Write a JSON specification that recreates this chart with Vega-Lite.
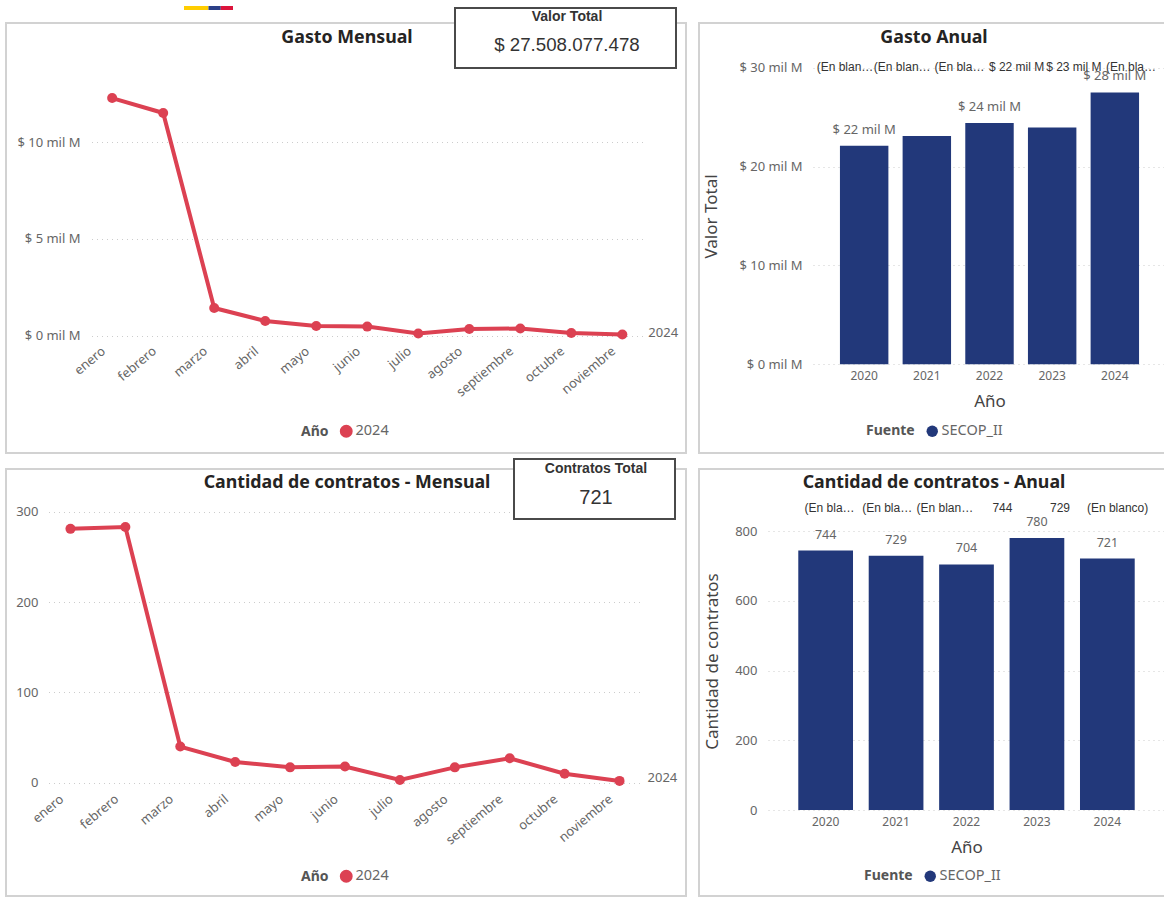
{"$schema":"https://vega.github.io/schema/vega-lite/v6.json","background":"white","padding":{"left":5,"top":5,"right":0,"bottom":0},"columns":2,"spacing":{"row":16,"column":13},"bounds":"flush",
"resolve":{"scale":{"color":"independent"},"legend":{"color":"independent"}},
"config":{"view":{"stroke":"#d2d2d2","strokeWidth":2},"font":"Noto Sans","axis":{"labelFont":"Noto Sans","labelFontSize":12,"labelColor":"#666666","titleFont":"Noto Sans","titleFontWeight":"normal","titleFontSize":17,"titleColor":"#444444","domain":false,"ticks":false,"gridColor":"#cccccc","gridDash":[1,4],"labelOverlap":false,"labelBound":false,"labelFlush":false},"legend":{"orient":"none","direction":"horizontal","titleOrient":"left","symbolType":"circle","symbolSize":130,"titleFont":"Noto Sans","labelFont":"Noto Sans","titleFontSize":14,"titleFontWeight":"bold","titleColor":"#555555","labelFontSize":14.5,"labelColor":"#666666","titlePadding":10,"labelOffset":2,"symbolOpacity":1},"title":{"font":"Noto Sans","fontSize":17.8,"fontWeight":"bold","color":"#252423","anchor":"middle","baseline":"alphabetic"},"text":{"font":"Noto Sans"}},
"datasets":{
"gastoMes":[{"mes":"enero","Año":"2024","valor":12.27},{"mes":"febrero","Año":"2024","valor":11.5},{"mes":"marzo","Año":"2024","valor":1.42},{"mes":"abril","Año":"2024","valor":0.75},{"mes":"mayo","Año":"2024","valor":0.49},{"mes":"junio","Año":"2024","valor":0.46},{"mes":"julio","Año":"2024","valor":0.1},{"mes":"agosto","Año":"2024","valor":0.34},{"mes":"septiembre","Año":"2024","valor":0.36},{"mes":"octubre","Año":"2024","valor":0.13},{"mes":"noviembre","Año":"2024","valor":0.05}],
"contratosMes":[{"mes":"enero","Año":"2024","valor":281},{"mes":"febrero","Año":"2024","valor":283},{"mes":"marzo","Año":"2024","valor":40},{"mes":"abril","Año":"2024","valor":23},{"mes":"mayo","Año":"2024","valor":17},{"mes":"junio","Año":"2024","valor":18},{"mes":"julio","Año":"2024","valor":3},{"mes":"agosto","Año":"2024","valor":17},{"mes":"septiembre","Año":"2024","valor":27},{"mes":"octubre","Año":"2024","valor":10},{"mes":"noviembre","Año":"2024","valor":2}],
"gastoAnio":[{"anio":"2020","Fuente":"SECOP_II","valor":22.1,"etiqueta":"$ 22 mil M"},{"anio":"2021","Fuente":"SECOP_II","valor":23.1},{"anio":"2022","Fuente":"SECOP_II","valor":24.4,"etiqueta":"$ 24 mil M"},{"anio":"2023","Fuente":"SECOP_II","valor":23.95},{"anio":"2024","Fuente":"SECOP_II","valor":27.5,"etiqueta":"$ 28 mil M"}],
"contratosAnio":[{"anio":"2020","Fuente":"SECOP_II","valor":744,"etiqueta":"744"},{"anio":"2021","Fuente":"SECOP_II","valor":729,"etiqueta":"729"},{"anio":"2022","Fuente":"SECOP_II","valor":704,"etiqueta":"704"},{"anio":"2023","Fuente":"SECOP_II","valor":780,"etiqueta":"780"},{"anio":"2024","Fuente":"SECOP_II","valor":721,"etiqueta":"721"}],
"filaGasto":[{"n":"a","t":"(En blan…"},{"n":"b","t":"(En blan…"},{"n":"c","t":"(En bla…"},{"n":"d","t":"$ 22 mil M"},{"n":"e","t":"$ 23 mil M"},{"n":"f","t":"(En bla…"}],
"filaContratos":[{"n":"a","t":"(En bla…"},{"n":"b","t":"(En bla…"},{"n":"c","t":"(En blan…"},{"n":"d","t":"744"},{"n":"e","t":"729"},{"n":"f","t":"(En blanco)"}],
"cardGasto":[{"card":"Valor Total","parte":"titulo","t":"Valor Total"},{"card":"Valor Total","parte":"valor","t":"$ 27.508.077.478"}],
"cardContratos":[{"card":"Contratos Total","parte":"titulo","t":"Contratos Total"},{"card":"Contratos Total","parte":"valor","t":"721"}],
"logo":[{"franja":"amarillo","orden":1,"p":50,"fila":"logo"},{"franja":"azul","orden":2,"p":25,"fila":"logo"},{"franja":"rojo","orden":3,"p":25,"fila":"logo"}]
},
"concat":[
{"width":680,"height":430,"title":{"text":"Gasto Mensual","offset":-41,"dx":1},
"resolve":{"scale":{"x":"independent","y":"independent","color":"independent"}},
"layer":[
{"data":{"name":"gastoMes"},
"encoding":{"x":{"field":"mes","type":"nominal","sort":null,"title":null,"scale":{"type":"point","range":[85.5,637],"padding":0.405},"axis":{"labelAngle":-40,"labelAlign":"right","labelBaseline":"middle","labelFontSize":13,"labelPadding":14,"labelOffset":-9,"offset":-118,"grid":false}},"y":{"field":"valor","type":"quantitative","title":null,"scale":{"domain":[0,15],"range":[312.5,22.25],"nice":false},"axis":{"values":[0,5,10],"labelExpr":"'$ ' + datum.value + ' mil M'","labelFontSize":13,"grid":true,"offset":-76,"labelPadding":2}},"color":{"field":"Año","type":"nominal","scale":{"range":["#DC4152"]},"legend":{"legendX":295,"legendY":401}}},
"layer":[{"mark":{"type":"line","strokeWidth":4}},{"mark":{"type":"point","filled":true,"size":100,"opacity":1}},
{"transform":[{"filter":"datum.mes === 'noviembre'"}],"mark":{"type":"text","align":"left","dx":26,"dy":-2,"fontSize":13},"encoding":{"text":{"field":"Año"},"color":{"value":"#666666"}}}]},
{"data":{"name":"cardGasto"},"transform":[{"filter":"datum.parte === 'titulo'"}],"mark":{"type":"rect","fill":"white","stroke":"#4a4a4a","strokeWidth":2},"encoding":{"x":{"field":"card","type":"nominal","axis":null,"scale":{"range":[449,670],"paddingInner":0,"paddingOuter":0}},"y":{"field":"card","type":"nominal","axis":null,"scale":{"range":[-15,45],"paddingInner":0,"paddingOuter":0}}}},
{"data":{"name":"cardGasto"},"transform":[{"filter":"datum.parte === 'titulo'"}],"mark":{"type":"text","font":"Liberation Sans","color":"#333333","fontWeight":"bold","fontSize":14},"encoding":{"text":{"field":"t"},"x":{"field":"card","type":"nominal","axis":null,"scale":{"type":"point","range":[561,561],"padding":0}},"y":{"field":"parte","type":"nominal","axis":null,"scale":{"type":"point","range":[-6,-6],"padding":0}}}},
{"data":{"name":"cardGasto"},"transform":[{"filter":"datum.parte === 'valor'"}],"mark":{"type":"text","font":"Liberation Sans","color":"#333333","fontSize":18.7},"encoding":{"text":{"field":"t"},"x":{"field":"card","type":"nominal","axis":null,"scale":{"type":"point","range":[561,561],"padding":0}},"y":{"field":"parte","type":"nominal","axis":null,"scale":{"type":"point","range":[22,22],"padding":0}}}},
{"data":{"name":"logo"},"mark":{"type":"bar"},"encoding":{"x":{"field":"p","type":"quantitative","axis":null,"stack":"zero","scale":{"domain":[0,100],"range":[178,227],"nice":false}},"y":{"field":"fila","type":"nominal","axis":null,"scale":{"range":[-17,-13],"paddingInner":0,"paddingOuter":0}},"order":{"field":"orden"},"color":{"field":"franja","type":"nominal","legend":null,"sort":null,"scale":{"range":["#FFCD00","#2B3F87","#DC143C"]}}}}
]},
{"width":466,"height":430,"title":{"text":"Gasto Anual","offset":-24,"dx":2},
"resolve":{"scale":{"x":"independent","y":"independent"}},
"layer":[
{"data":{"name":"gastoAnio"},
"encoding":{"x":{"field":"anio","type":"nominal","title":"Año","scale":{"range":[114,467],"paddingInner":0.227,"paddingOuter":0.43},"axis":{"labelAngle":0,"labelPadding":6,"titlePadding":12,"offset":-88.7,"grid":false}},"y":{"field":"valor","type":"quantitative","title":"Valor Total","scale":{"domain":[0,30],"range":[341.3,44.7],"nice":false},"axis":{"values":[0,10,20,30],"labelExpr":"'$ ' + datum.value + ' mil M'","labelFontSize":13,"grid":true,"offset":-105,"labelPadding":2,"titlePadding":18}}},
"layer":[{"mark":{"type":"bar"},"encoding":{"color":{"field":"Fuente","type":"nominal","scale":{"range":["#22387A"]},"legend":{"legendX":167,"legendY":401}}}},
{"transform":[{"filter":"datum.etiqueta"}],"mark":{"type":"text","dy":-16,"fontSize":13,"color":"#666666"},"encoding":{"text":{"field":"etiqueta"}}}]},
{"data":{"name":"filaGasto"},"mark":{"type":"text","font":"Liberation Sans","fontSize":12,"color":"#333333"},"encoding":{"text":{"field":"t"},"x":{"field":"n","type":"nominal","axis":null,"scale":{"type":"point","range":[146,432],"padding":0}},"y":{"field":"t","type":"nominal","axis":null,"scale":{"type":"point","range":[44,44],"padding":0}}}}
]},
{"width":680,"height":427,"title":{"text":"Cantidad de contratos - Mensual","offset":-34,"dx":1},
"resolve":{"scale":{"x":"independent","y":"independent"}},
"layer":[
{"data":{"name":"contratosMes"},
"encoding":{"x":{"field":"mes","type":"nominal","sort":null,"title":null,"scale":{"type":"point","range":[42.5,635.5],"padding":0.4},"axis":{"labelAngle":-40,"labelAlign":"right","labelBaseline":"middle","labelFontSize":13,"labelPadding":14,"labelOffset":-9,"offset":-113,"grid":false}},"y":{"field":"valor","type":"quantitative","title":null,"scale":{"domain":[0,300],"range":[313.7,42.7],"nice":false},"axis":{"values":[0,100,200,300],"labelFontSize":13,"grid":true,"offset":-34,"labelPadding":2}},"color":{"field":"Año","type":"nominal","scale":{"range":["#DC4152"]},"legend":{"legendX":295,"legendY":400}}},
"layer":[{"mark":{"type":"line","strokeWidth":4}},{"mark":{"type":"point","filled":true,"size":100,"opacity":1}},
{"transform":[{"filter":"datum.mes === 'noviembre'"}],"mark":{"type":"text","align":"left","dx":28,"dy":-3,"fontSize":13},"encoding":{"text":{"field":"Año"},"color":{"value":"#666666"}}}]},
{"data":{"name":"cardContratos"},"transform":[{"filter":"datum.parte === 'titulo'"}],"mark":{"type":"rect","fill":"white","stroke":"#4a4a4a","strokeWidth":2},"encoding":{"x":{"field":"card","type":"nominal","axis":null,"scale":{"range":[508,669],"paddingInner":0,"paddingOuter":0}},"y":{"field":"card","type":"nominal","axis":null,"scale":{"range":[-10,50],"paddingInner":0,"paddingOuter":0}}}},
{"data":{"name":"cardContratos"},"transform":[{"filter":"datum.parte === 'titulo'"}],"mark":{"type":"text","font":"Liberation Sans","color":"#333333","fontWeight":"bold","fontSize":14},"encoding":{"text":{"field":"t"},"x":{"field":"card","type":"nominal","axis":null,"scale":{"type":"point","range":[590,590],"padding":0}},"y":{"field":"parte","type":"nominal","axis":null,"scale":{"type":"point","range":[0,0],"padding":0}}}},
{"data":{"name":"cardContratos"},"transform":[{"filter":"datum.parte === 'valor'"}],"mark":{"type":"text","font":"Liberation Sans","color":"#333333","fontSize":20},"encoding":{"text":{"field":"t"},"x":{"field":"card","type":"nominal","axis":null,"scale":{"type":"point","range":[590,590],"padding":0}},"y":{"field":"parte","type":"nominal","axis":null,"scale":{"type":"point","range":[29,29],"padding":0}}}}
]},
{"width":466,"height":427,"title":{"text":"Cantidad de contratos - Anual","offset":-23,"dx":2},
"resolve":{"scale":{"x":"independent","y":"independent"}},
"layer":[
{"data":{"name":"contratosAnio"},
"encoding":{"x":{"field":"anio","type":"nominal","title":"Año","scale":{"range":[69,466],"paddingInner":0.223,"paddingOuter":0.43},"axis":{"labelAngle":0,"labelPadding":6,"titlePadding":12,"offset":-86,"grid":false}},"y":{"field":"valor","type":"quantitative","title":"Cantidad de contratos","scale":{"domain":[0,800],"range":[341,62],"nice":false},"axis":{"values":[0,200,400,600,800],"labelFontSize":13,"grid":true,"offset":-60,"labelPadding":2,"titlePadding":13,"titleY":192}}},
"layer":[{"mark":{"type":"bar"},"encoding":{"color":{"field":"Fuente","type":"nominal","scale":{"range":["#22387A"]},"legend":{"legendX":165,"legendY":400}}}},
{"mark":{"type":"text","dy":-16,"fontSize":12.5,"color":"#666666"},"encoding":{"text":{"field":"etiqueta"}}}]},
{"data":{"name":"filaContratos"},"mark":{"type":"text","font":"Liberation Sans","fontSize":12,"color":"#333333"},"encoding":{"text":{"field":"t"},"x":{"field":"n","type":"nominal","axis":null,"scale":{"type":"point","range":[130.6,418.6],"padding":0}},"y":{"field":"t","type":"nominal","axis":null,"scale":{"type":"point","range":[39,39],"padding":0}}}}
]}
]}
